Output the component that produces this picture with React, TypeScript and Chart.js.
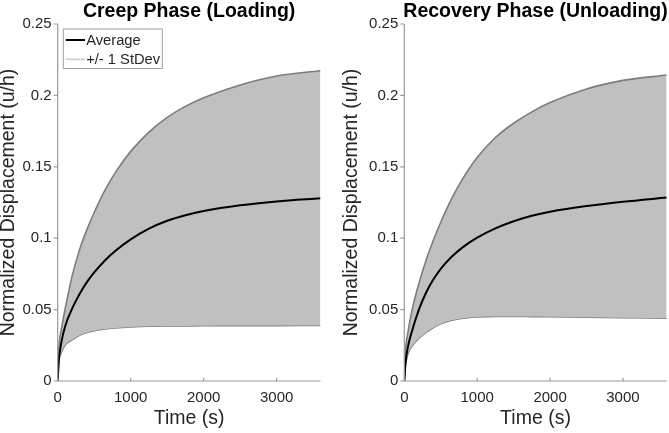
import React, { useEffect, useRef } from 'react';
import { Chart, registerables } from 'chart.js';

Chart.register(...registerables);

// ---- data ----
const timeS = [0, 15, 50, 100, 200, 300, 400, 500, 650, 800, 1000, 1250, 1500, 1750, 2000, 2500, 3000, 3600];

const creepAvg = [0, 0.014, 0.027, 0.038, 0.051, 0.061, 0.0692, 0.076, 0.0846, 0.0916, 0.0992, 0.1067, 0.1122, 0.1161, 0.119, 0.123, 0.1257, 0.1279];
const creepUpper = [0, 0.022, 0.036, 0.05, 0.074, 0.092, 0.106, 0.118, 0.1338, 0.1468, 0.1608, 0.1743, 0.1846, 0.1923, 0.1983, 0.2073, 0.2136, 0.2173];
const creepLower = [0, 0.013, 0.02, 0.025, 0.029, 0.032, 0.034, 0.0352, 0.0365, 0.0372, 0.0378, 0.0383, 0.0385, 0.0386, 0.0387, 0.0388, 0.0388, 0.0389];

const recovAvg = [0, 0.012, 0.024, 0.034, 0.05, 0.062, 0.0712, 0.0786, 0.087, 0.0936, 0.1004, 0.1069, 0.1119, 0.1157, 0.1185, 0.1225, 0.1255, 0.1285];
const recovUpper = [0, 0.02, 0.034, 0.0482, 0.0682, 0.0847, 0.0987, 0.1112, 0.1277, 0.1415, 0.1565, 0.1705, 0.1805, 0.1885, 0.195, 0.2045, 0.2105, 0.2143];
const recovLower = [0, 0.01, 0.019, 0.024, 0.03, 0.034, 0.0375, 0.04, 0.0425, 0.044, 0.0449, 0.0452, 0.0452, 0.0451, 0.045, 0.0447, 0.0443, 0.044];

const xTicks = [0, 1000, 2000, 3000];
const xTickLabels = ['0', '1000', '2000', '3000'];
const yTicks = [0, 0.05, 0.1, 0.15, 0.2, 0.25];
const yTickLabels = ['0', '0.05', '0.1', '0.15', '0.2', '0.25'];
const legendLabels = ['Average', '+/- 1 StDev'];
const panelTitles = ['Creep Phase (Loading)', 'Recovery Phase (Unloading)'];
const xTitle = 'Time (s)';
const yTitle = 'Normalized Displacement (u/h)';

const FONT = "'Liberation Sans', Arial, Helvetica, sans-serif";
const TEXT = '#262626';
const AXIS = '#9a9a9a';
const FILL = '#c0c0c0';
const EDGE = '#7c7c7c';

type PanelProps = {
  title: string;
  avg: number[];
  upper: number[];
  lower: number[];
  legend: boolean;
  left: number;
  width: number;
  padLeft: number;
  yWidth: number;
  padRight: number;
};

function Panel(p: PanelProps) {
  const ref = useRef<HTMLCanvasElement | null>(null);
  useEffect(() => {
    const canvas = ref.current;
    if (!canvas) return;
    const pts = (arr: number[]) => timeS.map((t, i) => ({ x: t, y: arr[i] }));
    const decor = {
      id: 'decor',
      afterDraw(chart: any) {
        const { ctx, chartArea } = chart;
        const { left, right, top, bottom } = chartArea;
        const xs = chart.scales.x;
        const ys = chart.scales.y;
        ctx.save();
        // title
        ctx.font = `bold 19.5px ${FONT}`;
        ctx.fillStyle = '#000';
        ctx.textAlign = 'center';
        ctx.textBaseline = 'alphabetic';
        ctx.fillText(p.title, (left + right) / 2, 17);
        // axes
        ctx.strokeStyle = AXIS;
        ctx.lineWidth = 1.2;
        ctx.beginPath();
        ctx.moveTo(left, top);
        ctx.lineTo(left, bottom);
        ctx.lineTo(right, bottom);
        ctx.stroke();
        // y ticks (outward)
        ctx.beginPath();
        yTicks.forEach((v) => {
          const y = ys.getPixelForValue(v);
          ctx.moveTo(left - 4, y);
          ctx.lineTo(left, y);
        });
        // x ticks (inward)
        xTicks.forEach((v) => {
          const x = xs.getPixelForValue(v);
          ctx.moveTo(x, bottom);
          ctx.lineTo(x, bottom - 3);
        });
        ctx.stroke();
        // legend
        if (p.legend) {
          const bx = left + 5.6;
          const by = top + 5;
          ctx.fillStyle = '#fff';
          ctx.fillRect(bx, by, 99, 39.5);
          ctx.strokeStyle = '#a0a0a0';
          ctx.lineWidth = 1;
          ctx.strokeRect(bx, by, 99, 39.5);
          const rows = [top + 16, top + 35.3];
          const colors = ['#000', '#d4d4d4'];
          rows.forEach((ry, i) => {
            ctx.strokeStyle = colors[i];
            ctx.lineWidth = 2;
            ctx.beginPath();
            ctx.moveTo(left + 8, ry);
            ctx.lineTo(left + 27.3, ry);
            ctx.stroke();
            ctx.fillStyle = TEXT;
            ctx.font = `14.7px ${FONT}`;
            ctx.textAlign = 'left';
            ctx.textBaseline = 'middle';
            ctx.fillText(legendLabels[i], left + 28.5, ry + 0.5);
          });
        }
        ctx.restore();
      },
    };
    const chart = new Chart(canvas, {
      type: 'line',
      data: {
        datasets: [
          {
            label: legendLabels[0],
            data: pts(p.avg),
            borderColor: '#000',
            borderWidth: 2,
            pointRadius: 0,
            fill: false,
            cubicInterpolationMode: 'monotone',
          },
          {
            label: 'upper',
            data: pts(p.upper),
            borderColor: EDGE,
            borderWidth: 1.6,
            pointRadius: 0,
            backgroundColor: FILL,
            fill: '+1',
            cubicInterpolationMode: 'monotone',
          },
          {
            label: 'lower',
            data: pts(p.lower),
            borderColor: EDGE,
            borderWidth: 1.6,
            pointRadius: 0,
            fill: false,
            cubicInterpolationMode: 'monotone',
          },
        ],
      } as any,
      options: {
        animation: false,
        responsive: false,
        devicePixelRatio: 1,
        layout: { padding: { left: p.padLeft, right: p.padRight, top: 24, bottom: 0 } },
        plugins: { legend: { display: false }, tooltip: { enabled: false }, title: { display: false } },
        scales: {
          x: {
            type: 'linear',
            min: 0,
            max: 3600,
            afterBuildTicks: (s: any) => {
              s.ticks = xTicks.map((v) => ({ value: v }));
            },
            afterFit: (s: any) => {
              s.height = 52;
            },
            grid: { display: false, drawTicks: false },
            border: { display: false },
            ticks: {
              autoSkip: false,
              maxRotation: 0,
              padding: 8,
              color: TEXT,
              font: { family: FONT, size: 15, lineHeight: 1.2 },
              callback: (v: any) => xTickLabels[xTicks.indexOf(Number(v))] ?? '',
            },
            title: {
              display: true,
              text: xTitle,
              color: TEXT,
              font: { family: FONT, size: 19.5, lineHeight: 1.2 },
              padding: { top: 0, bottom: 3 },
            },
          },
          y: {
            type: 'linear',
            min: 0,
            max: 0.25,
            afterBuildTicks: (s: any) => {
              s.ticks = yTicks.map((v) => ({ value: v }));
            },
            afterFit: (s: any) => {
              s.width = p.yWidth;
            },
            grid: { display: false, drawTicks: false },
            border: { display: false },
            ticks: {
              autoSkip: false,
              padding: 6,
              color: TEXT,
              font: { family: FONT, size: 15, lineHeight: 1.2 },
              callback: (v: any) => {
                const i = yTicks.findIndex((t) => Math.abs(t - Number(v)) < 1e-9);
                return i >= 0 ? yTickLabels[i] : '';
              },
            },
            title: {
              display: true,
              text: yTitle,
              color: TEXT,
              font: { family: FONT, size: 19.5, lineHeight: 0.9 },
              padding: { top: 0, bottom: 0 },
            },
          },
        },
      } as any,
      plugins: [decor],
    });
    return () => chart.destroy();
  }, []);
  return (
    <canvas
      ref={ref}
      width={p.width}
      height={433}
      style={{ position: 'absolute', left: p.left, top: 0, width: p.width, height: 433, display: 'block' }}
    />
  );
}

export default function App() {
  return (
    <div style={{ position: 'absolute', left: 0, top: 0, width: 669, height: 433, background: '#fff', overflow: 'hidden' }}>
      <Panel
        title={panelTitles[0]}
        avg={creepAvg}
        upper={creepUpper}
        lower={creepLower}
        legend={true}
        left={0}
        width={335}
        padLeft={0}
        yWidth={57.7}
        padRight={14.5}
      />
      <Panel
        title={panelTitles[1]}
        avg={recovAvg}
        upper={recovUpper}
        lower={recovLower}
        legend={false}
        left={335}
        width={334}
        padLeft={7.8}
        yWidth={61.5}
        padRight={2.3}
      />
    </div>
  );
}
